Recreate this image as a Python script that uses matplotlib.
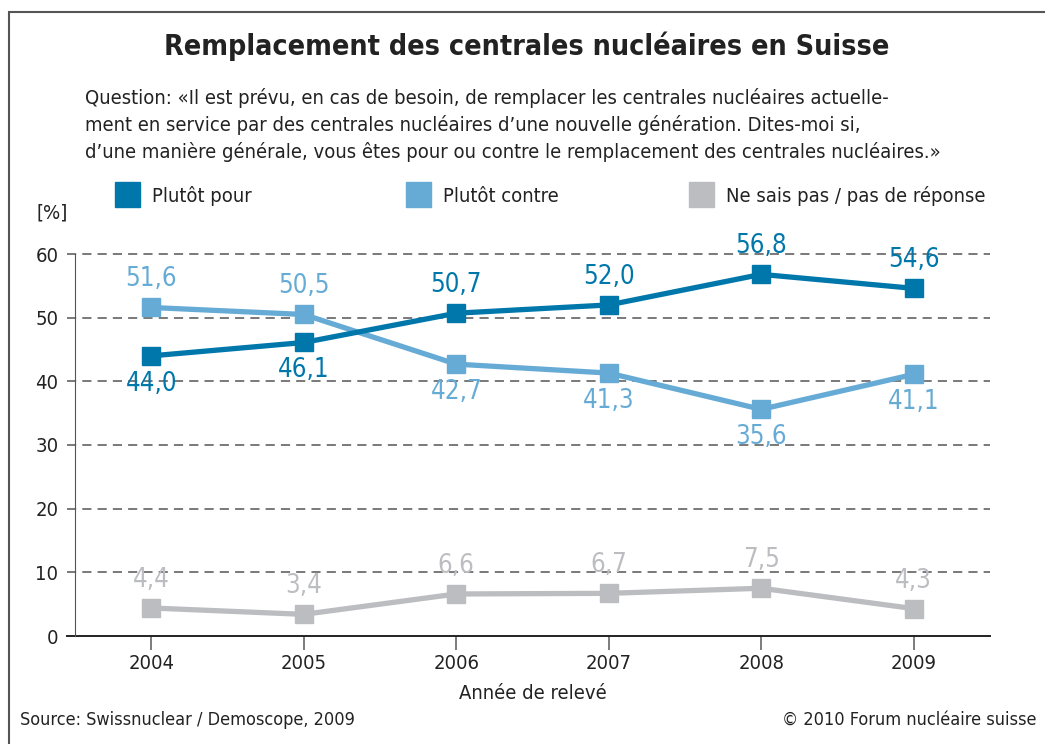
import matplotlib.pyplot as plt
from matplotlib.patches import Rectangle

plt.rcParams['font.family'] = ['DejaVu Sans']
plt.rcParams['font.stretch'] = 'condensed'

years = [2004, 2005, 2006, 2007, 2008, 2009]
pour = [44.0, 46.1, 50.7, 52.0, 56.8, 54.6]
contre = [51.6, 50.5, 42.7, 41.3, 35.6, 41.1]
nsp = [4.4, 3.4, 6.6, 6.7, 7.5, 4.3]

# label above (+1) or below (-1) the point
pour_side = [-1, -1, 1, 1, 1, 1]
contre_side = [1, 1, -1, -1, -1, -1]
nsp_side = [1, 1, 1, 1, 1, 1]

names = ["Plutôt pour", "Plutôt contre", "Ne sais pas / pas de réponse"]
colors = ["#0077AA", "#66ABD5", "#BCBDC1"]
txt = "#222222"

W, H = 1045, 744
fig = plt.figure(figsize=(W / 100, H / 100), dpi=100)

# outer frame (open at right and bottom)
fig.patches.append(Rectangle((9 / W, -0.01), (W + 10) / W, 1 - 12 / H + 0.01,
                             transform=fig.transFigure, fill=False,
                             edgecolor="#555555", linewidth=1.5))

ax = fig.add_axes([75 / W, 1 - 636 / H, (990 - 75) / W, (636 - 254) / H])
ax.set_xlim(2003.5, 2009.5)
ax.set_ylim(0, 60)

for y in range(10, 61, 10):
    ax.plot([2003.445, 2009.5], [y, y], color="#555555", lw=1.1,
            dashes=(6, 4), clip_on=False, zorder=1)
ax.plot([2003.445, 2009.5], [0, 0], color="#222222", lw=1.4, clip_on=False, zorder=2)

for vals, sides, col in zip([nsp, contre, pour], [nsp_side, contre_side, pour_side], colors[::-1]):
    ax.plot(years, vals, color=col, lw=3.8, marker="s", markersize=13, zorder=3)
    for x, v, s in zip(years, vals, sides):
        ax.annotate(f"{v:.1f}".replace(".", ","), (x, v), textcoords="offset pixels",
                    xytext=(0, 28 * s), ha="center", va="center",
                    fontsize=18.5, color=col, zorder=4)

ax.spines["top"].set_visible(False)
ax.spines["right"].set_visible(False)
ax.spines["bottom"].set_visible(False)
ax.spines["left"].set_color("#555555")
ax.set_yticks(range(0, 61, 10))
ax.set_xticks(years)
ax.tick_params(axis="y", length=0, labelsize=14.5, pad=12, colors=txt)
ax.tick_params(axis="x", length=10, width=1.2, color="#666666", labelsize=14.5, pad=3, labelcolor=txt)
ax.set_xlabel("Année de relevé", fontsize=14.5, color=txt, labelpad=8)

fig.text(527 / W, 1 - 46 / H, "Remplacement des centrales nucléaires en Suisse",
         ha="center", va="center", fontsize=20.5, fontweight="bold", color=txt)
fig.text(85 / W, 1 - 125 / H,
         "Question: «Il est prévu, en cas de besoin, de remplacer les centrales nucléaires actuelle-\n"
         "ment en service par des centrales nucléaires d’une nouvelle génération. Dites-moi si,\n"
         "d’une manière générale, vous êtes pour ou contre le remplacement des centrales nucléaires.»",
         ha="left", va="center", fontsize=14.5, color=txt, linespacing=1.45)

for name, col, xs in zip(names, colors, [115, 406, 689]):
    fig.patches.append(Rectangle((xs / W, 1 - 207 / H), 25 / W, 25 / H,
                                 transform=fig.transFigure, color=col))
    fig.text((xs + 37) / W, 1 - 196 / H, name, ha="left", va="center",
             fontsize=14.5, color=txt)

fig.text(36 / W, 1 - 213 / H, "[%]", ha="left", va="center", fontsize=14.5, color=txt)
fig.text(20 / W, 1 - 720 / H, "Source: Swissnuclear / Demoscope, 2009",
         ha="left", va="center", fontsize=13, color=txt)
fig.text(1036 / W, 1 - 720 / H, "© 2010 Forum nucléaire suisse",
         ha="right", va="center", fontsize=13, color=txt)

fig.savefig("out.png", dpi=100)
